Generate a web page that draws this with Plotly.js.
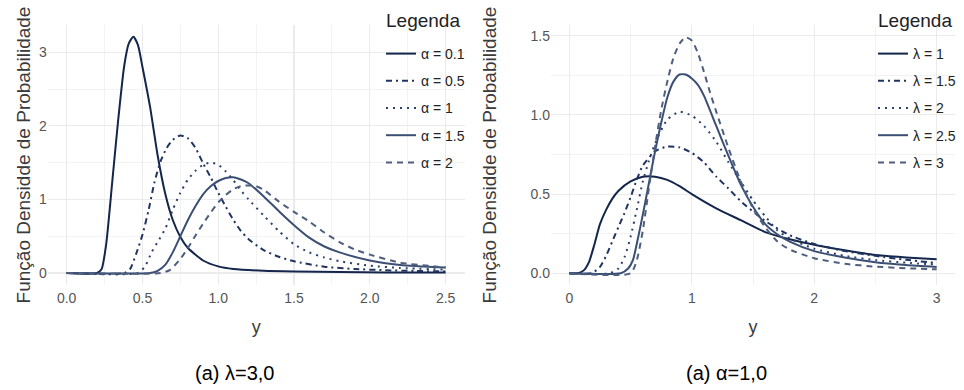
<!DOCTYPE html>
<html>
<head>
<meta charset="utf-8">
<script src="https://cdn.plot.ly/plotly-3.0.1.min.js"></script>
<style>html,body{margin:0;padding:0;background:#fff;}#chart{width:964px;height:390px;}</style>
</head>
<body>
<div id="chart"></div>
<script>
// ---------- Data ----------
// Left panel: lambda = 3, varying alpha
const alphaLabels = ["α = 0.1", "α = 0.5", "α = 1", "α = 1.5", "α = 2"];
const a01_x = [0,0.2,0.23,0.26,0.3,0.34,0.38,0.41,0.44,0.47,0.5,0.55,0.6,0.65,0.7,0.75,0.8,0.9,1.0,1.1,1.3,1.5,1.8,2.1,2.5];
const a01_y = [0,0,0.05,0.38,1.22,2.08,2.82,3.12,3.21,3.10,2.80,2.26,1.60,1.08,0.72,0.49,0.34,0.17,0.09,0.055,0.03,0.02,0.012,0.008,0.006];
const a05_x = [0,0.38,0.42,0.46,0.5,0.54,0.58,0.62,0.66,0.7,0.75,0.8,0.85,0.9,0.95,1.0,1.05,1.1,1.15,1.2,1.3,1.4,1.5,1.7,1.9,2.1,2.3,2.5];
const a05_y = [0,0,0.06,0.27,0.52,0.85,1.24,1.52,1.70,1.81,1.87,1.83,1.70,1.49,1.30,1.09,0.90,0.72,0.57,0.46,0.31,0.22,0.16,0.085,0.055,0.038,0.028,0.022];
const a1_x = [0,0.47,0.52,0.56,0.6,0.65,0.7,0.75,0.8,0.85,0.9,0.95,1.0,1.05,1.1,1.15,1.2,1.3,1.4,1.5,1.6,1.7,1.8,2.0,2.2,2.5];
const a1_y = [0,0,0.1,0.28,0.42,0.6,0.86,1.09,1.27,1.39,1.47,1.50,1.47,1.38,1.26,1.12,1.0,0.78,0.57,0.39,0.28,0.21,0.16,0.10,0.068,0.045];
const a15_x = [0,0.55,0.6,0.65,0.7,0.75,0.8,0.85,0.9,0.95,1.0,1.05,1.1,1.15,1.2,1.3,1.4,1.5,1.6,1.7,1.8,2.0,2.2,2.5];
const a15_y = [0,0,0.03,0.11,0.28,0.50,0.72,0.91,1.07,1.18,1.25,1.29,1.30,1.27,1.22,1.04,0.84,0.65,0.48,0.36,0.28,0.17,0.11,0.075];
const a2_x = [0,0.62,0.68,0.75,0.8,0.85,0.9,0.95,1.0,1.05,1.1,1.15,1.2,1.25,1.3,1.4,1.5,1.6,1.7,1.8,1.9,2.0,2.2,2.4,2.5];
const a2_y = [0,0,0.04,0.19,0.34,0.51,0.67,0.82,0.96,1.06,1.14,1.18,1.19,1.18,1.13,0.97,0.83,0.70,0.55,0.42,0.32,0.25,0.14,0.095,0.075];

// Right panel: alpha = 1, varying lambda
const lambdaLabels = ["λ = 1", "λ = 1.5", "λ = 2", "λ = 2.5", "λ = 3"];
const l1_x = [0,0.07,0.12,0.16,0.2,0.25,0.3,0.35,0.4,0.5,0.6,0.7,0.8,0.9,1.0,1.2,1.4,1.6,1.8,2.0,2.25,2.5,2.75,3.0];
const l1_y = [0,0,0.02,0.07,0.17,0.31,0.40,0.47,0.52,0.58,0.61,0.61,0.59,0.55,0.50,0.41,0.335,0.26,0.215,0.18,0.145,0.115,0.1,0.088];
const l15_x = [0,0.18,0.25,0.3,0.35,0.4,0.45,0.5,0.55,0.6,0.7,0.8,0.9,1.0,1.1,1.2,1.3,1.4,1.6,1.8,2.0,2.25,2.5,2.75,3.0];
const l15_y = [0,0,0.04,0.11,0.2,0.29,0.38,0.48,0.59,0.68,0.77,0.80,0.795,0.76,0.70,0.61,0.535,0.455,0.33,0.24,0.185,0.14,0.11,0.085,0.065];
const l2_x = [0,0.33,0.4,0.45,0.5,0.55,0.6,0.65,0.7,0.8,0.9,1.0,1.1,1.2,1.3,1.4,1.5,1.6,1.7,1.8,2.0,2.25,2.5,2.75,3.0];
const l2_y = [0,0,0.03,0.1,0.23,0.40,0.58,0.71,0.82,0.97,1.02,0.995,0.93,0.83,0.70,0.58,0.46,0.36,0.27,0.22,0.155,0.11,0.083,0.067,0.055];
const l25_x = [0,0.42,0.48,0.52,0.56,0.6,0.65,0.7,0.75,0.8,0.85,0.9,0.95,1.0,1.05,1.1,1.2,1.3,1.4,1.5,1.6,1.7,1.8,2.0,2.25,2.5,2.75,3.0];
const l25_y = [0,0,0.03,0.085,0.22,0.37,0.57,0.77,0.95,1.11,1.21,1.255,1.255,1.23,1.19,1.12,0.93,0.74,0.56,0.42,0.31,0.245,0.2,0.14,0.1,0.07,0.052,0.04];
const l3_x = [0,0.5,0.55,0.6,0.65,0.7,0.75,0.8,0.85,0.9,0.95,1.0,1.05,1.1,1.15,1.2,1.3,1.4,1.5,1.6,1.7,1.8,2.0,2.25,2.5,2.75,3.0];
const l3_y = [0,0,0.08,0.27,0.54,0.80,1.03,1.21,1.36,1.45,1.49,1.47,1.39,1.27,1.14,1.02,0.79,0.58,0.41,0.29,0.2,0.15,0.095,0.06,0.042,0.032,0.025];

const leftTicks = [0, 1, 2, 3];
const rightTicks = [0, 0.5, 1, 1.5];
const captions = ["(a) λ=3,0", "(a) α=1,0"];
const yTitle = "Função Densidde de Probabilidade";
const legendTitle = "Legenda";

// ---------- Styles ----------
const colors = ["#14264c", "#1f3460", "#2b416b", "#3b4f74", "#4e5e7e"];
const dashes = ["solid", "6px,4px,2px,4px", "2px,5px", "solid", "6px,5px"];
const FONT = "Liberation Sans, Arial, Helvetica, sans-serif";

const leftX = [a01_x, a05_x, a1_x, a15_x, a2_x];
const leftY = [a01_y, a05_y, a1_y, a15_y, a2_y];
const rightX = [l1_x, l15_x, l2_x, l25_x, l3_x];
const rightY = [l1_y, l15_y, l2_y, l25_y, l3_y];

const traces = [];
for (let i = 0; i < 5; i++) {
  traces.push({
    x: leftX[i], y: leftY[i], type: "scatter", mode: "lines",
    line: {color: colors[i], width: 2, dash: dashes[i], shape: "spline", smoothing: 0.6},
    name: alphaLabels[i], xaxis: "x", yaxis: "y", legend: "legend", legendgroup: "a" + i
  });
}
for (let i = 0; i < 5; i++) {
  traces.push({
    x: rightX[i], y: rightY[i], type: "scatter", mode: "lines",
    line: {color: colors[i], width: 2, dash: dashes[i], shape: "spline", smoothing: 0.6},
    name: lambdaLabels[i], xaxis: "x2", yaxis: "y2", legend: "legend2", legendgroup: "l" + i
  });
}

const W = 964, H = 390;
const px = v => v / W, py = v => 1 - v / H;
const grid = "#ebebeb";
const tickFont = {family: FONT, size: 14, color: "#555555"};
const titleFont = {family: FONT, size: 19, color: "#3a3a3a"};
const xTitleFont = {family: FONT, size: 18, color: "#3a3a3a"};

function axisBase(extra) {
  return Object.assign({
    showgrid: true, gridcolor: grid, gridwidth: 1.1, zeroline: false, showline: false,
    ticks: "", tickfont: tickFont, fixedrange: true
  }, extra);
}

const legendBase = {
  bgcolor: "rgba(0,0,0,0)", borderwidth: 0, tracegroupgap: 6,
  font: {family: FONT, size: 14, color: "#222"},
  xanchor: "left", yanchor: "top"
};

const layout = {
  width: W, height: H, margin: {l: 0, r: 0, t: 0, b: 0},
  paper_bgcolor: "#fff", plot_bgcolor: "#fff", showlegend: true,
  xaxis: axisBase({domain: [px(47.7), px(464.6)], range: [-0.125, 2.625], tickvals: [0,0.5,1,1.5,2,2.5], ticktext: ["0.0","0.5","1.0","1.5","2.0","2.5"],
    minor: {dtick: 0.25, tick0: 0, showgrid: true, gridcolor: grid, gridwidth: 0.6}, ticklabelstandoff: 3,
    title: {text: "y", font: xTitleFont, standoff: 15}, anchor: "y"}),
  yaxis: axisBase({domain: [py(285), py(25)], range: [-0.163, 3.37], tickvals: leftTicks, ticktext: leftTicks.map(String),
    minor: {dtick: 0.5, tick0: 0, showgrid: true, gridcolor: grid, gridwidth: 0.6},
    title: {text: yTitle, font: titleFont, standoff: 3}, anchor: "x"}),
  xaxis2: axisBase({domain: [px(551), px(955)], range: [-0.15, 3.15], tickvals: [0,1,2,3], ticktext: ["0","1","2","3"],
    minor: {dtick: 0.5, tick0: 0, showgrid: true, gridcolor: grid, gridwidth: 0.6}, ticklabelstandoff: 3,
    title: {text: "y", font: xTitleFont, standoff: 15}, anchor: "y2"}),
  yaxis2: axisBase({domain: [py(285), py(25)], range: [-0.074, 1.5675], tickvals: rightTicks, ticktext: rightTicks.map(v => v.toFixed(1)),
    minor: {dtick: 0.25, tick0: 0, showgrid: true, gridcolor: grid, gridwidth: 0.6},
    title: {text: yTitle, font: titleFont, standoff: 28}, anchor: "x2"}),
  legend: Object.assign({}, legendBase, {x: px(381), y: py(38)}),
  legend2: Object.assign({}, legendBase, {x: px(873), y: py(38)}),
  annotations: [
    {text: legendTitle, xref: "paper", yref: "paper", x: px(384), y: py(20), showarrow: false, xanchor: "left", yanchor: "middle", font: {family: FONT, size: 19, color: "#222"}},
    {text: legendTitle, xref: "paper", yref: "paper", x: px(876), y: py(20), showarrow: false, xanchor: "left", yanchor: "middle", font: {family: FONT, size: 19, color: "#222"}},
    {text: captions[0], xref: "paper", yref: "paper", x: px(234), y: py(373), showarrow: false, xanchor: "center", yanchor: "middle", font: {family: FONT, size: 20, color: "#000"}},
    {text: captions[1], xref: "paper", yref: "paper", x: px(726), y: py(373), showarrow: false, xanchor: "center", yanchor: "middle", font: {family: FONT, size: 20, color: "#000"}}
  ]
};

Plotly.newPlot("chart", traces, layout, {displayModeBar: false, staticPlot: true});
</script>
</body>
</html>
